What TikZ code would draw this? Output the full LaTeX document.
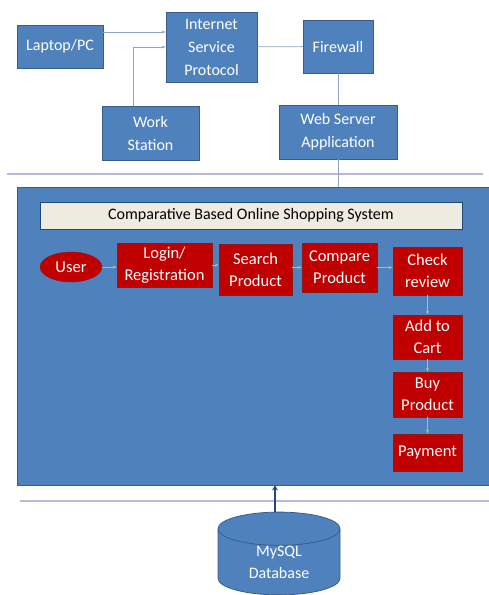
\documentclass[tikz,border=0pt]{standalone}
\usepackage{fontspec}
\setmainfont{Carlito}
\usepackage{tikz}
\usetikzlibrary{arrows.meta,positioning,shapes.geometric}
\definecolor{office}{HTML}{4F81BD}
\definecolor{officedark}{HTML}{385D8A}
\definecolor{crimson}{HTML}{C00000}
\definecolor{crimsondark}{HTML}{8E1B1B}
\definecolor{cream}{HTML}{EEECE1}
\definecolor{ink}{HTML}{1F497D}
\definecolor{wire}{HTML}{8FA6C6}
\definecolor{sepline}{HTML}{B9B9D8}
\definecolor{sprout}{HTML}{9CC98A}
\tikzset{
  netbox/.style={rectangle, draw=officedark, fill=office, line width=0.8pt, text=white,
                 align=center, inner sep=0pt, font=\fontsize{16}{23}\selectfont},
  stepbox/.style={rectangle, draw=crimsondark, fill=crimson, line width=0.6pt, text=white,
                  align=center, inner sep=0pt, font=\fontsize{16.5}{22}\selectfont},
  titlebar/.style={rectangle, draw=ink, fill=cream, line width=1pt, text=black,
                   inner sep=0pt, font=\fontsize{16}{18}\selectfont},
  wirelink/.style={draw=wire, line width=0.8pt},
  wirearrow/.style={wirelink, -{Stealth[length=4pt]}},
  flow/.style={-{Stealth[length=4pt]}, draw=sprout, line width=1pt},
  dbflow/.style={-{Stealth[length=5pt,width=6pt]}, draw=ink, line width=2.2pt},
  sep/.style={draw=sepline, line width=1.5pt}
}
\begin{document}
\begin{tikzpicture}[x=1pt, y=-1pt]
  \useasboundingbox (0,0) rectangle (489,595);
  % network side
  \node[netbox, minimum width=86pt, minimum height=43pt] (laptop) at (60,46.5) {Laptop/PC};
  \node[netbox, minimum width=91pt, minimum height=70pt] (isp) at (211.5,47) {Internet\\Service\\Protocol};
  \node[netbox, minimum width=70pt, minimum height=53pt] (firewall) at (338,46.5) {Firewall};
  \node[netbox, minimum width=97pt, minimum height=54pt] (work) at (150.5,133) {Work\\Station};
  \node[netbox, minimum width=118pt, minimum height=54pt] (web) at (338,132) {Web Server\\Application};
  \coordinate (lap) at ([yshift=14.5pt]laptop.east);
  \coordinate (ws) at ([xshift=-17.5pt]work.north);
  \draw[wirearrow] (lap) -- (lap -| isp.west);
  \draw[wirearrow] (ws) |- (isp.west);
  \draw[wirelink] (isp) -- (firewall);
  \draw[wirelink] (firewall) -- (web);
  \draw[sep] (7,174) -- (483,174);
  % application
  \node[netbox, minimum width=473pt, minimum height=298pt] (sys) at (253.5,336) {};
  \draw[wirelink] (web.south) -- (web.south |- sys.north);
  \node[titlebar, minimum width=422pt, minimum height=27pt] (title) at (251,215.5) {Comparative Based Online Shopping System};
  \node[ellipse, draw=crimsondark, fill=crimson, text=white, inner sep=0pt,
        minimum width=62pt, minimum height=30pt, font=\fontsize{16.5}{18}\selectfont] (user) at (71,267) {User};
  \node[stepbox, minimum width=95pt, minimum height=44pt] (login) at (164.5,265) {Login/\\Registration};
  \node[stepbox, minimum width=73pt, minimum height=51pt] (search) at (255.5,269.5) {Search\\Product};
  \node[stepbox, minimum width=75pt, minimum height=49pt] (compare) at (339.5,267.5) {Compare\\Product};
  \node[stepbox, minimum width=69pt, minimum height=48pt] (check) at (427.5,271) {Check\\review};
  \node[stepbox, minimum width=69pt, minimum height=44pt] (cart) at (427.5,337) {Add to\\Cart};
  \node[stepbox, minimum width=69pt, minimum height=45pt] (buy) at (427.5,394.5) {Buy\\Product};
  \node[stepbox, minimum width=69pt, minimum height=37pt] (pay) at (427.5,452.5) {Payment};
  \draw[flow] (user) -- (user -| login.west);
  \draw[flow] (login) -- (login -| search.west);
  \draw[flow] (search.east |- compare) -- (compare.west);
  \draw[flow] (compare) -- (compare -| check.west);
  \draw[flow] (check) -- (cart);
  \draw[flow] (cart) -- (buy);
  \draw[flow] (buy) -- (pay);
  % database
  \draw[sep] (20,501) -- (489,501);
  \node[cylinder, shape border rotate=90, aspect=0.55, draw=officedark, fill=office, text=white,
        line width=0.8pt, minimum width=122pt, minimum height=82pt, inner sep=0pt, align=center,
        font=\fontsize{16}{22}\selectfont] (db) at (279,562) {MySQL\\Database};
  \draw[dbflow] ([xshift=-4pt]db.north) -- ([xshift=-4pt]db.north |- sys.south);
\end{tikzpicture}
\end{document}
